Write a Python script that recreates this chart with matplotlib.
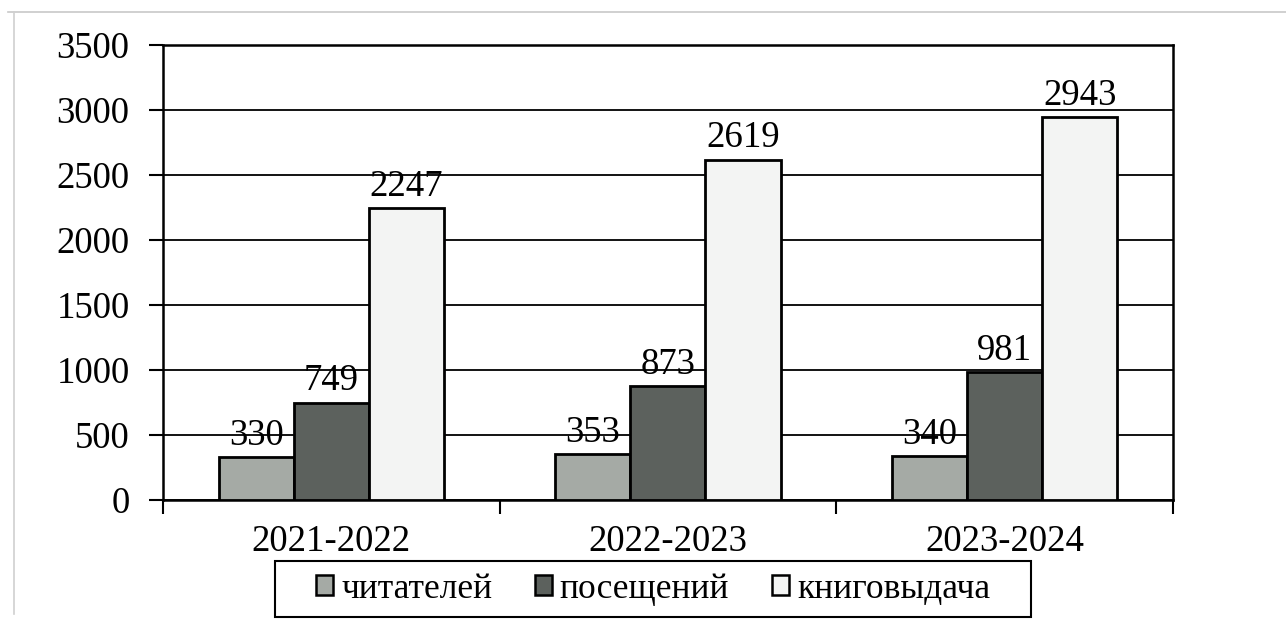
import matplotlib.pyplot as plt
import numpy as np
from matplotlib.lines import Line2D
from matplotlib.patches import Rectangle

years = ["2021-2022", "2022-2023", "2023-2024"]
series_names = ["читателей", "посещений", "книговыдача"]
readers = [330, 353, 340]
visits = [749, 873, 981]
books = [2247, 2619, 2943]

colors = ["#a5aaa5", "#5c615d", "#f3f4f3"]

plt.rcParams['font.family'] = ['Liberation Serif', 'DejaVu Serif']

fig = plt.figure(figsize=(12.86, 6.27), dpi=100)
ax = fig.add_axes([0.1267, 0.2026, 0.7854, 0.7256])

x = np.arange(len(years))
w = 0.223
for i, (vals, name) in enumerate(zip([readers, visits, books], series_names)):
    bars = ax.bar(x + (i - 1) * w, vals, w, color=colors[i], edgecolor='black',
                  linewidth=2, label=name, zorder=3)
    ax.bar_label(bars, padding=3, fontsize=26.5)

ax.set_xlim(-0.5, 2.5)
ax.set_ylim(0, 3500)
ax.set_yticks(range(0, 3501, 500))
ax.yaxis.grid(True, color='black', linewidth=1.3, zorder=0)
ax.set_axisbelow(True)

# category labels sit between the boundary ticks
ax.set_xticks([-0.5, 0.5, 1.5, 2.5])
ax.set_xticklabels([])
ax.set_xticks(x, minor=True)
ax.set_xticklabels(years, minor=True)
ax.tick_params(axis='x', which='minor', length=0, pad=18, labelsize=26.5)
ax.tick_params(axis='x', which='major', length=10, width=1.5, direction='out')
ax.tick_params(axis='y', length=10, width=1.5, direction='out', pad=14, labelsize=26.5)

for s in ax.spines.values():
    s.set_linewidth(1.8)

leg = fig.legend(loc='center', bbox_to_anchor=(0.5078, 0.0606), ncol=3,
                 fontsize=25.5, frameon=False, handlelength=0.48,
                 handleheight=0.48, handletextpad=0.23, columnspacing=1.2,
                 borderpad=0.2)
for h in leg.legend_handles:
    h.set_linewidth(1.8)

# legend box is wider than the default frame, so draw it by hand
fig.add_artist(Rectangle((0.2138, 0.0159), 0.5879, 0.0893, transform=fig.transFigure,
                         fill=False, edgecolor='black', linewidth=1.5))

# faint scan frame
fig.add_artist(Line2D([0.006, 1.0], [0.981, 0.981], transform=fig.transFigure,
                      color='#c8c8c8', linewidth=1.2))
fig.add_artist(Line2D([0.0105, 0.0105], [0.02, 0.981], transform=fig.transFigure,
                      color='#d0d0d0', linewidth=1.2))

fig.savefig('out.png', dpi=100)
